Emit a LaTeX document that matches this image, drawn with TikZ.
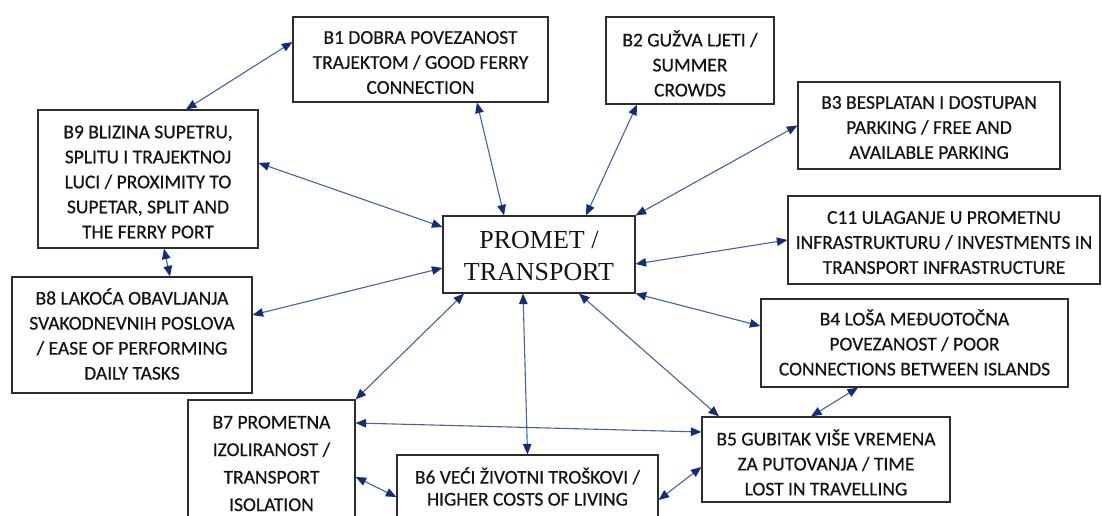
\documentclass[tikz,border=0pt]{standalone}
\usepackage{fontspec}
\setmainfont{Carlito}
\newfontfamily\boxfont{Carlito}[FakeBold=0.5]
\newfontfamily\serifp{Liberation Serif}
\usetikzlibrary{arrows.meta,calc}
\definecolor{lnblue}{RGB}{70,100,155}
\definecolor{tipblue}{RGB}{20,45,120}
\definecolor{boxgray}{RGB}{45,45,45}
\definecolor{txt}{RGB}{20,20,20}
\begin{document}
\begin{tikzpicture}[x=1pt,y=-1pt,
  box/.style={draw=boxgray,line width=1.2pt,fill=white,inner sep=0pt},
  btext/.style={inner sep=0pt,align=center,text=txt,font=\boxfont\fontsize{19.5}{25}\selectfont},
  link/.style={draw=lnblue,line width=1.1pt,{Triangle[length=10.5pt,width=8.5pt,color=tipblue]}-{Triangle[length=10.5pt,width=8.5pt,color=tipblue]}}]
\useasboundingbox (0,0) rectangle (1102,516);
\clip (0,0) rectangle (1102,516);
\fill[white] (0,0) rectangle (1102,516);

\node[box,minimum width=255pt,minimum height=85pt] (B1) at (420.5,59.5) {};
\node[btext] (B1t) at ([yshift=-3pt]B1.center) {B1 DOBRA POVEZANOST\\TRAJEKTOM / GOOD FERRY\\CONNECTION};
\node[box,minimum width=168pt,minimum height=87pt] (B2) at (690,60.5) {};
\node[btext] (B2t) at ([yshift=-3pt]B2.center) {B2 GUŽVA LJETI /\\SUMMER\\CROWDS};
\node[box,minimum width=262pt,minimum height=87pt] (B3) at (929,125.5) {};
\node[btext] (B3t) at ([yshift=-2pt]B3.center) {B3 BESPLATAN I DOSTUPAN\\PARKING / FREE AND\\AVAILABLE PARKING};
\node[box,minimum width=220pt,minimum height=138pt] (B9) at (148,179) {};
\node[btext] (B9t) at ([yshift=-3pt]B9.center) {B9 BLIZINA SUPETRU,\\SPLITU I TRAJEKTNOJ\\LUCI / PROXIMITY TO\\SUPETAR, SPLIT AND\\THE FERRY PORT};
\node[box,minimum width=192pt,minimum height=77pt] (P) at (539,254.5) {};
\node[btext,font=\serifp\fontsize{26}{32}\selectfont] (Pt) at ([yshift=-2pt]P.center) {PROMET /\\TRANSPORT};
\node[box,minimum width=312pt,minimum height=88pt] (C11) at (944,240) {};
\node[btext] (C11t) at ([yshift=-2.5pt]C11.center) {C11 ULAGANJE U PROMETNU\\INFRASTRUKTURU / INVESTMENTS IN\\TRANSPORT INFRASTRUCTURE};
\node[box,minimum width=240pt,minimum height=116pt] (B8) at (132,335) {};
\node[btext] (B8t) at ([yshift=1pt]B8.center) {B8 LAKOĆA OBAVLJANJA\\SVAKODNEVNIH POSLOVA\\/ EASE OF PERFORMING\\DAILY TASKS};
\node[box,minimum width=307pt,minimum height=88pt] (B4) at (914.5,343) {};
\node[btext] (B4t) at ([yshift=0.5pt]B4.center) {B4 LOŠA MEĐUOTOČNA\\POVEZANOST / POOR\\CONNECTIONS BETWEEN ISLANDS};
\node[box,minimum width=167pt,minimum height=127pt] (B7) at (271.5,463.5) {};
\node[btext,font=\boxfont\fontsize{19.5}{27.5}\selectfont] (B7t) at ([yshift=0pt]B7.center) {B7 PROMETNA\\IZOLIRANOST /\\TRANSPORT\\ISOLATION};
\node[box,minimum width=261pt,minimum height=66pt] (B6) at (527.5,488) {};
\node[btext,font=\boxfont\fontsize{19.5}{22}\selectfont] (B6t) at ([yshift=1.5pt]B6.center) {B6 VEĆI ŽIVOTNI TROŠKOVI /\\HIGHER COSTS OF LIVING};
\node[box,minimum width=248pt,minimum height=85pt] (B5) at (826,459.5) {};
\node[btext] (B5t) at ([yshift=-3pt]B5.center) {B5 GUBITAK VIŠE VREMENA\\ZA PUTOVANJA / TIME\\LOST IN TRAVELLING};

\draw[link] ([yshift=17.5pt]B1.west) -- ([xshift=38pt]B9.north);
\draw[link] ([xshift=56.5pt]B1.south) -- ([xshift=-35pt]P.north);
\draw[link] ([yshift=16pt]B9.east) -- ([yshift=27.5pt]P.west);
\draw[link] ([xshift=16pt]B9.south) -- ([xshift=38pt]B8.north);
\draw[link] ([xshift=-53pt]B2.south) -- ([xshift=47pt]P.north);
\draw[link] (B3.west) -- (P.north east);
\draw[link] (C11.west) -- ([yshift=-9.5pt]P.east);
\draw[link] ([yshift=20pt]B8.east) -- ([yshift=-13.5pt]P.west);
\draw[link] ([yshift=17pt]B4.west) -- (P.south east);
\draw[link] ([xshift=-75pt]P.south) -- (B7.north east);
\draw[link] ([xshift=-16pt]P.south) -- (B6.north);
\draw[link] ([xshift=40pt]P.south) -- ([xshift=-107pt]B5.north);
\draw[link] ([xshift=-56.5pt]B4.south) -- ([xshift=-15pt]B5.north);
\draw[link] ([yshift=40.5pt]B7.east) -- ([yshift=27.5pt]B5.west);
\draw[link] ([yshift=-13.5pt]B7.east) -- ([yshift=-9pt]B6.west);
\draw[link] ([yshift=-12pt]B6.east) -- ([yshift=-7.5pt]B5.west);
\end{tikzpicture}
\end{document}
